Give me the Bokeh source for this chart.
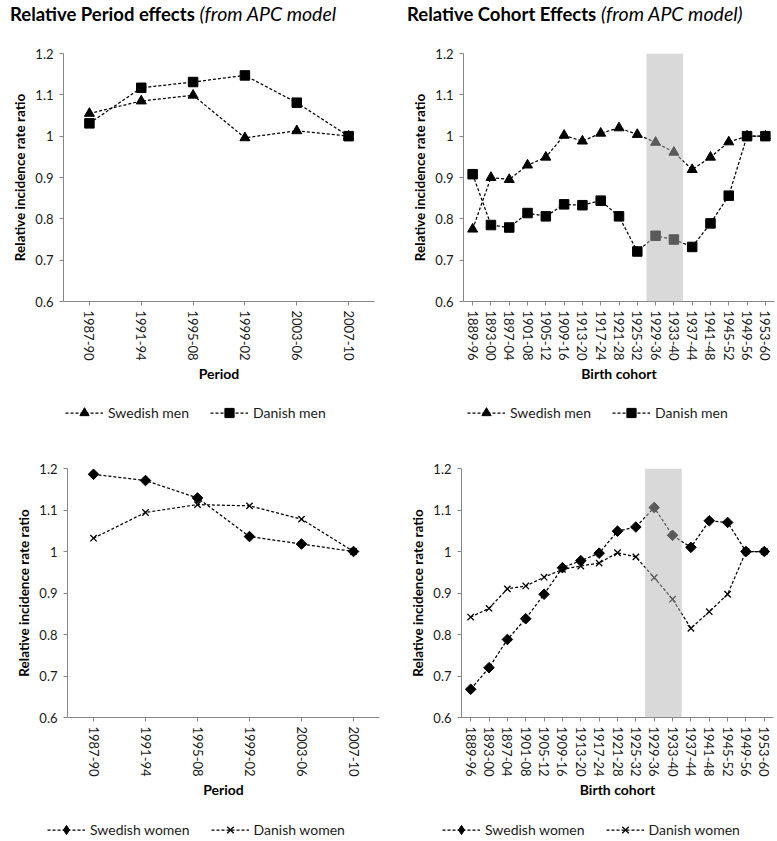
import math
from bokeh.plotting import figure
from bokeh.models import (Range1d, FactorRange, FixedTicker, Legend, LegendItem,
                          BoxAnnotation, Div)
from bokeh.layouts import column, row
from bokeh.embed import file_html
from bokeh.resources import INLINE

FONT = "Lato"

# ---------------- data ----------------
periods = ["1987-90", "1991-94", "1995-08", "1999-02", "2003-06", "2007-10"]
cohorts = ["1889-96", "1893-00", "1897-04", "1901-08", "1905-12", "1909-16",
           "1913-20", "1917-24", "1921-28", "1925-32", "1929-36", "1933-40",
           "1937-44", "1941-48", "1945-52", "1949-56", "1953-60"]
shaded_cohorts = ["1929-36", "1933-40"]

period_swe_men = [1.055, 1.085, 1.099, 0.996, 1.013, 1.000]
period_dan_men = [1.031, 1.117, 1.131, 1.147, 1.081, 1.000]
period_swe_women = [1.186, 1.171, 1.129, 1.036, 1.018, 1.000]
period_dan_women = [1.032, 1.094, 1.113, 1.110, 1.078, 1.000]

cohort_swe_men = [0.775, 0.900, 0.895, 0.930, 0.949, 1.002, 0.988, 1.007, 1.020,
                  1.004, 0.985, 0.961, 0.919, 0.949, 0.986, 1.000, 1.000]
cohort_dan_men = [0.908, 0.785, 0.779, 0.814, 0.806, 0.835, 0.833, 0.844, 0.806,
                  0.721, 0.759, 0.750, 0.732, 0.789, 0.856, 1.000, 1.000]
cohort_swe_women = [0.668, 0.720, 0.788, 0.838, 0.897, 0.961, 0.978, 0.996, 1.049,
                    1.059, 1.106, 1.039, 1.010, 1.074, 1.070, 1.000, 1.000]
cohort_dan_women = [0.842, 0.863, 0.910, 0.917, 0.938, 0.957, 0.965, 0.972, 0.997,
                    0.987, 0.937, 0.885, 0.815, 0.855, 0.897, 1.000, 1.000]

y_ticks = [0.6, 0.7, 0.8, 0.9, 1.0, 1.1, 1.2]
y_tick_labels = ["0.6", "0.7", "0.8", "0.9", "1", "1.1", "1.2"]

y_title = "Relative incidence rate ratio"
title_left = ("Relative Period effects", "(from APC model")
title_right = ("Relative Cohort Effects", "(from APC model)")

AXIS_COLOR = "#868686"
TEXT_COLOR = "#1a1a1a"
LINE_DASH = "3 2"
NAN = float("nan")


def draw_series(p, cats, vals, marker, size, in_legend=False):
    """Draw one dashed series with markers; returns (line, scatter)."""
    rl = p.line(x=cats, y=vals, line_color="black", line_width=1.25,
                line_dash=LINE_DASH)
    if marker == "x":
        rm = p.scatter(x=cats, y=vals, marker="x", size=size,
                       line_color="black", line_width=1.3)
    elif marker == "diamond":
        if in_legend:
            rm = p.scatter(x=cats, y=vals, marker="diamond", size=size,
                           fill_color="black", line_color="black")
        else:
            rm = p.scatter(x=cats, y=vals, marker="square", size=size,
                           angle=math.pi / 4, fill_color="black",
                           line_color="black")
    else:
        rm = p.scatter(x=cats, y=vals, marker=marker, size=size,
                       fill_color="black", line_color="black")
    return rl, rm


def panel(cats, series, xlabel, fw, fh, bl, br, bt, bb, shade=None):
    p = figure(x_range=FactorRange(factors=cats, range_padding=0),
               y_range=Range1d(0.6, 1.2), frame_width=fw, frame_height=fh,
               min_border_left=bl, min_border_right=br,
               min_border_top=bt, min_border_bottom=bb,
               output_backend="svg", toolbar_location=None, tools="")
    p.outline_line_color = None
    p.xgrid.visible = False
    p.ygrid.visible = False

    for ax in (p.xaxis[0], p.yaxis[0]):
        ax.axis_line_color = AXIS_COLOR
        ax.major_tick_line_color = AXIS_COLOR
        ax.major_tick_out = 4
        ax.major_tick_in = 0
        ax.minor_tick_line_color = None
        ax.major_label_text_font = FONT
        ax.major_label_text_font_size = "13px"
        ax.major_label_text_color = TEXT_COLOR
        ax.axis_label_text_font = FONT
        ax.axis_label_text_font_style = "bold"
        ax.axis_label_text_color = "black"

    p.yaxis.ticker = FixedTicker(ticks=y_ticks)
    p.yaxis.major_label_overrides = {t: l for t, l in zip(y_ticks, y_tick_labels)}
    p.yaxis.axis_label = y_title
    p.yaxis.axis_label_text_font_size = "13.5px"
    p.yaxis.major_label_standoff = 6
    p.yaxis.axis_label_standoff = 4

    p.xaxis.axis_label = xlabel
    p.xaxis.axis_label_text_font_size = "14px"
    p.xaxis.major_label_orientation = "vertical"
    p.xaxis.major_label_standoff = 5
    p.xaxis.axis_label_standoff = 1

    for label, vals, marker, size in series:
        draw_series(p, cats, vals, marker, size)

    if shade is not None:
        left = cats.index(shade[0])
        right = cats.index(shade[-1]) + 1
        p.add_layout(BoxAnnotation(left=left, right=right, fill_color="#b4b4b4",
                                   fill_alpha=0.5, line_color=None))
    return p


def legend_strip(series, width, height, lx, ly):
    """A strip below a panel holding its legend (legend-only renderers)."""
    p = figure(x_range=Range1d(0, 1), y_range=Range1d(0, 1), width=width,
               height=height, min_border=0, output_backend="svg",
               toolbar_location=None, tools="", x_axis_location=None,
               y_axis_location=None)
    p.outline_line_color = None
    p.xgrid.visible = False
    p.ygrid.visible = False
    items = []
    for label, vals, marker, size in series:
        # legend-only renderers: a single undefined (NaN) point, never drawn
        rl, rm = draw_series(p, [NAN], [NAN], marker, size, in_legend=True)
        items.append(LegendItem(label=label, renderers=[rl, rm]))
    legend = Legend(items=items, orientation="horizontal", location=(lx, ly),
                    border_line_color=None, background_fill_alpha=0,
                    padding=0, margin=0, spacing=21, glyph_width=38,
                    glyph_height=23, label_height=23, label_standoff=5,
                    label_text_font=FONT, label_text_font_size="14px",
                    label_text_color=TEXT_COLOR)
    p.add_layout(legend)
    return p


def title_div(parts, width, pad):
    bold, ital = parts
    html = (f'<div style="font-family: {FONT}; font-size: 18.5px; color: black; '
            f'white-space: nowrap; padding-left: {pad}px; line-height: 20px; '
            f'margin-top: 4px;">'
            f'<b>{bold}</b> <i style="font-size: 19.5px;">{ital}</i></div>')
    return Div(text=html, width=width, height=43, margin=0)


men_period = [("Swedish men", period_swe_men, "triangle", 10),
              ("Danish men", period_dan_men, "square", 9.5)]
men_cohort = [("Swedish men", cohort_swe_men, "triangle", 10),
              ("Danish men", cohort_dan_men, "square", 9.5)]
women_period = [("Swedish women", period_swe_women, "diamond", 7.5),
                ("Danish women", period_dan_women, "x", 9)]
women_cohort = [("Swedish women", cohort_swe_women, "diamond", 7.5),
                ("Danish women", cohort_dan_women, "x", 9)]

d1 = title_div(title_left, 398, 10)
d2 = title_div(title_right, 378, 9)

f1 = panel(periods, men_period, "Period", 311, 248, 63, 24, 10, 90)
f2 = panel(cohorts, men_cohort, "Birth cohort", 311, 248, 65, 2, 10, 90,
           shade=shaded_cohorts)
l1 = legend_strip(men_period, 398, 33, 65, 0)
l2 = legend_strip(men_cohort, 378, 33, 69, 0)

f3 = panel(periods, women_period, "Period", 312, 249, 67, 19, 44, 94)
f4 = panel(cohorts, women_cohort, "Birth cohort", 312, 249, 63, 3, 44, 94,
           shade=shaded_cohorts)
l3 = legend_strip(women_period, 398, 30, 47, 0)
l4 = legend_strip(women_cohort, 378, 30, 44, 0)

layout = column(row(d1, d2), row(f1, f2), row(l1, l2), row(f3, f4), row(l3, l4))

with open("out.html", "w") as fh:
    fh.write(file_html(layout, INLINE, title="APC effects"))
